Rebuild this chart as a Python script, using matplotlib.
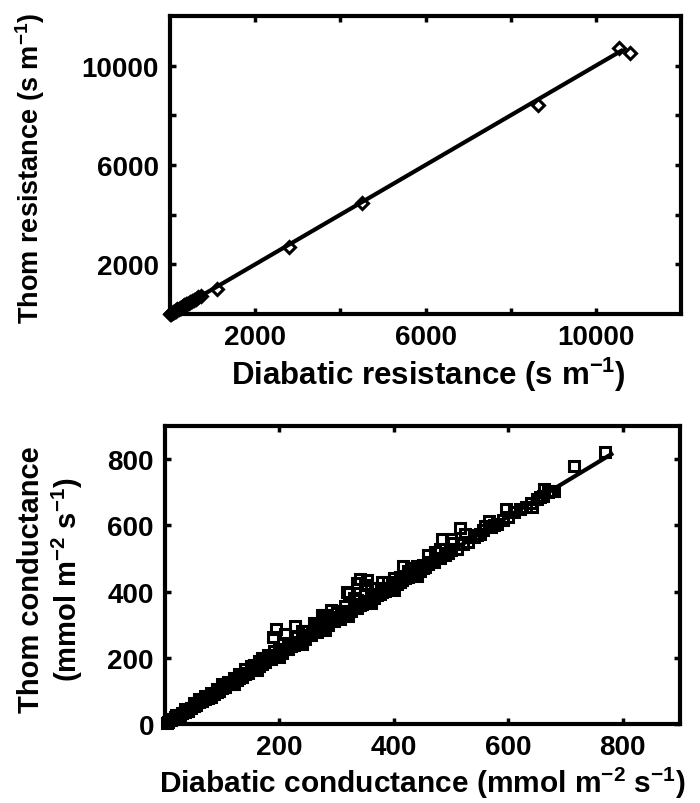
import matplotlib
matplotlib.use('Agg')
import matplotlib.pyplot as plt
from matplotlib.ticker import FixedLocator, NullFormatter

# fonts: bold Arial-like everywhere, superscripts too
plt.rcParams['font.family'] = ['Liberation Sans', 'DejaVu Sans']
plt.rcParams['font.weight'] = 'bold'
plt.rcParams['mathtext.fontset'] = 'custom'
plt.rcParams['mathtext.rm'] = 'Liberation Sans:bold'
plt.rcParams['mathtext.bf'] = 'Liberation Sans:bold'
plt.rcParams['mathtext.default'] = 'bf'

# resistances (s m-1)
res_diabatic = [0, 15, 30, 50, 70, 90, 110, 130, 150, 175, 200, 225, 250, 280, 310,
                340, 370, 400, 440, 480, 520, 560, 610, 660, 720,
                1100, 2800, 4500, 8650, 10550, 10800]
res_thom = [0, 20, 35, 50, 75, 95, 115, 140, 155, 185, 210, 230, 260, 290, 320,
            350, 385, 410, 450, 495, 530, 575, 620, 680, 740,
            1000, 2700, 4450, 8400, 10700, 10500]
res_fit_x = [0, 10600]
res_fit_y = [0, 10600]

# conductances (mmol m-2 s-1)
cond_diabatic = [3, 6, 10, 14, 18, 22, 26, 30, 35, 40, 45, 50, 55, 60, 65, 70, 75, 80,
                 85, 90, 95, 100, 105, 110, 115, 120, 125, 130, 135, 140, 145, 150,
                 155, 160, 165, 170, 175, 180, 185, 190, 195, 200, 205, 210, 215, 220,
                 225, 230, 235, 240, 245, 250, 255, 260, 265, 270, 275, 280, 285, 290,
                 295, 300, 305, 310, 315, 320, 325, 330, 335, 340, 345, 350, 355, 360,
                 365, 370, 375, 380, 385, 390, 395, 400, 405, 410, 415, 420, 425, 430,
                 435, 440, 445, 450,
                 60, 80, 100, 120, 140, 150, 170, 190, 194, 188, 209, 228, 240, 260,
                 280, 300, 322, 330, 341, 350, 360, 380, 400, 416, 430, 450, 472, 484,
                 503, 516, 490, 510, 530, 545, 566, 560, 575, 596, 620, 641, 650, 662,
                 670, 680, 714, 769,
                 455, 460, 465, 470, 480, 495, 500, 520, 540, 550, 555, 570, 580, 590,
                 600, 610, 630, 640, 655, 660, 675,
                 20, 35, 50, 70, 90, 110, 130, 150, 165, 180, 200, 215, 230, 250, 265,
                 285, 300, 315, 335, 350, 370, 390, 410, 425, 440,
                 40, 80, 120, 160, 200, 240, 280, 320, 360, 400, 440,
                 155, 275, 290, 318, 335, 353, 460, 480, 500, 525]
cond_thom = [3, 7, 11, 15, 20, 24, 28, 33, 37, 43, 48, 54, 58, 65, 69, 76, 79, 86,
             90, 97, 100, 108, 112, 120, 121, 130, 132, 140, 143, 152, 153, 163,
             165, 175, 174, 182, 186, 196, 195, 205, 207, 216, 215, 228, 226, 236,
             238, 248, 246, 258, 258, 270, 268, 280, 278, 292, 290, 300, 298, 312,
             310, 320, 318, 330, 330, 342, 340, 352, 350, 360, 362, 372, 370, 380,
             382, 390, 392, 400, 402, 410, 412, 420, 422, 430, 435, 440, 445, 450,
             455, 460, 462, 470,
             75, 95, 120, 140, 165, 175, 200, 220, 286, 264, 271, 297, 280, 305,
             330, 335, 397, 380, 437, 420, 410, 430, 440, 478, 470, 480, 518, 558,
             548, 593, 510, 530, 550, 570, 614, 598, 600, 649, 650, 654, 680, 709,
             700, 705, 780, 822,
             475, 482, 488, 490, 500, 515, 525, 545, 565, 575, 585, 595, 605, 615,
             625, 640, 655, 668, 685, 690, 705,
             26, 44, 62, 84, 106, 128, 150, 172, 190, 208, 228, 245, 262, 282, 300,
             322, 340, 355, 375, 392, 410, 428, 445, 462, 478,
             40, 81, 121, 162, 202, 243, 284, 325, 366, 406, 447,
             178, 330, 345, 400, 425, 435, 510, 530, 560, 575]
cond_fit_x = [0, 780]
cond_fit_y = [0, 815]

fig = plt.figure(figsize=(7, 8.04), dpi=100)
W, H = 700.0, 804.0

def px_axes(left, top, right, bottom):
    return fig.add_axes([left / W, 1 - bottom / H, (right - left) / W, (bottom - top) / H])

def style_axes(ax, xmajor, xminor, ymajor, yminor, lim):
    ax.set_xlim(0, lim)
    ax.set_ylim(0, lim)
    ax.xaxis.set_major_locator(FixedLocator(xmajor))
    ax.xaxis.set_minor_locator(FixedLocator(xminor))
    ax.yaxis.set_major_locator(FixedLocator(ymajor))
    ax.yaxis.set_minor_locator(FixedLocator(yminor))
    ax.xaxis.set_minor_formatter(NullFormatter())
    ax.yaxis.set_minor_formatter(NullFormatter())
    ax.tick_params(which='both', direction='in', top=True, right=True,
                   length=4, width=2.5, labelsize=20)
    ax.tick_params(axis='x', pad=7)
    ax.tick_params(axis='y', pad=8)
    for sp in ax.spines.values():
        sp.set_linewidth(3)

# top panel
ax1 = px_axes(170, 17, 681, 315)
ax1.plot(res_fit_x, res_fit_y, '-k', lw=3)
ax1.plot(res_diabatic, res_thom, 'D', ms=6.5, mfc='none', mec='k', mew=2.2, clip_on=False)
style_axes(ax1, [2000, 6000, 10000], [4000, 8000], [2000, 6000, 10000], [4000, 8000], 12000)

# bottom panel
ax2 = px_axes(165, 427, 680, 725)
ax2.plot(cond_fit_x, cond_fit_y, '-k', lw=3)
ax2.plot(cond_diabatic, cond_thom, 's', ms=6.5, mfc='none', mec='k', mew=2.2, clip_on=False)
style_axes(ax2, [200, 400, 600, 800], [], [0, 200, 400, 600, 800], [], 900)

# axis labels
fig.text(428 / W, 1 - 375 / H, r'Diabatic resistance (s m$^{-1}$)',
         ha='center', va='center', fontsize=22.5)
fig.text(30 / W, 1 - 168 / H, r'Thom resistance (s m$^{-1}$)',
         ha='center', va='center', rotation=90, fontsize=19.5)
fig.text(422 / W, 1 - 783 / H, r'Diabatic conductance (mmol m$^{-2}$ s$^{-1}$)',
         ha='center', va='center', fontsize=21.5)
fig.text(51 / W, 1 - 580 / H, 'Thom conductance\n' + r'(mmol m$^{-2}$ s$^{-1}$)',
         ha='center', va='center', rotation=90, fontsize=21, multialignment='center')

fig.savefig('out.png', dpi=100)
